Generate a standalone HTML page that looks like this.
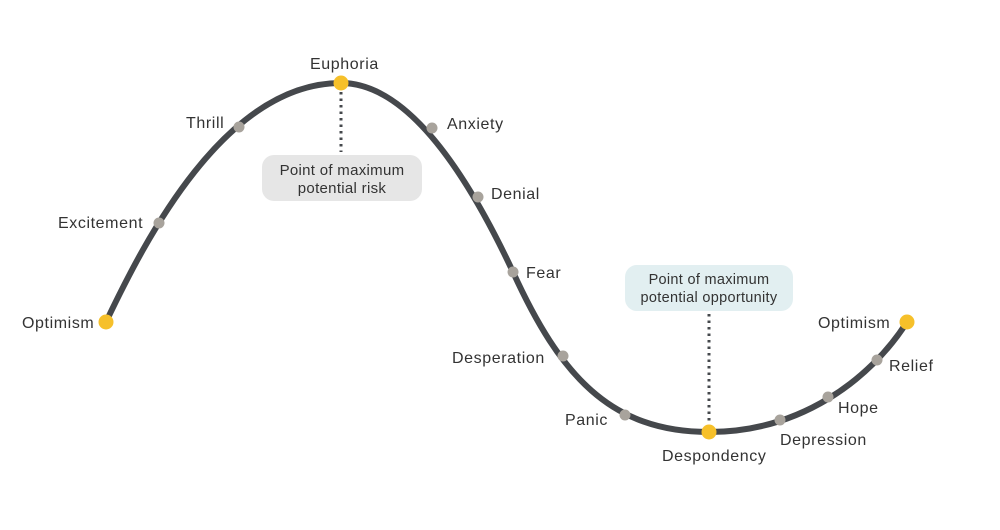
<!DOCTYPE html>
<html><head><meta charset="utf-8"><style>
html,body{margin:0;padding:0;background:#fff;}
svg{display:block;}
text{font-family:"Liberation Sans",sans-serif;font-size:16px;fill:#333;letter-spacing:0.6px;}
</style></head><body>
<svg width="1000" height="530" viewBox="0 0 1000 530">
<path d="M106,322 C145,240 225,83 341,83 C410,83 470,180 513,272 C560,375 610,432 709,432 C800,432 870,380 907,322" fill="none" stroke="#45484c" stroke-width="6" stroke-linecap="round"/>
<line x1="341" y1="92" x2="341" y2="152" stroke="#45484c" stroke-width="3" stroke-dasharray="2.5,4"/>
<line x1="709" y1="314" x2="709" y2="424" stroke="#45484c" stroke-width="3" stroke-dasharray="2.5,4"/>
<rect x="262" y="155" width="160" height="46" rx="12" fill="#e6e6e6"/>
<text x="342" y="175" text-anchor="middle" style="font-size:15px;letter-spacing:0.3px">Point of maximum</text>
<text x="342" y="193" text-anchor="middle" style="font-size:15px;letter-spacing:0.3px">potential risk</text>
<rect x="625" y="265" width="168" height="46" rx="12" fill="#e2eff1"/>
<text x="709" y="284" text-anchor="middle" style="font-size:14.5px;letter-spacing:0.3px">Point of maximum</text>
<text x="709" y="302" text-anchor="middle" style="font-size:14.5px;letter-spacing:0.3px">potential opportunity</text>
<g fill="#a8a39c">
<circle cx="159" cy="223" r="5.5"/><circle cx="239" cy="127" r="5.5"/>
<circle cx="432" cy="128" r="5.5"/><circle cx="478" cy="197" r="5.5"/>
<circle cx="513" cy="272" r="5.5"/><circle cx="563" cy="356" r="5.5"/>
<circle cx="625" cy="415" r="5.5"/><circle cx="780" cy="420" r="5.5"/>
<circle cx="828" cy="397" r="5.5"/><circle cx="877" cy="360" r="5.5"/>
</g>
<g fill="#f6c02a">
<circle cx="106" cy="322" r="7.5"/><circle cx="341" cy="83" r="7.5"/>
<circle cx="709" cy="432" r="7.5"/><circle cx="907" cy="322" r="7.5"/>
</g>
<text x="22" y="328">Optimism</text>
<text x="58" y="228">Excitement</text>
<text x="186" y="128">Thrill</text>
<text x="310" y="69">Euphoria</text>
<text x="447" y="129">Anxiety</text>
<text x="491" y="199">Denial</text>
<text x="526" y="278">Fear</text>
<text x="452" y="363">Desperation</text>
<text x="565" y="425">Panic</text>
<text x="662" y="461">Despondency</text>
<text x="780" y="445">Depression</text>
<text x="838" y="413">Hope</text>
<text x="889" y="371">Relief</text>
<text x="818" y="328">Optimism</text>
</svg>
</body></html>
